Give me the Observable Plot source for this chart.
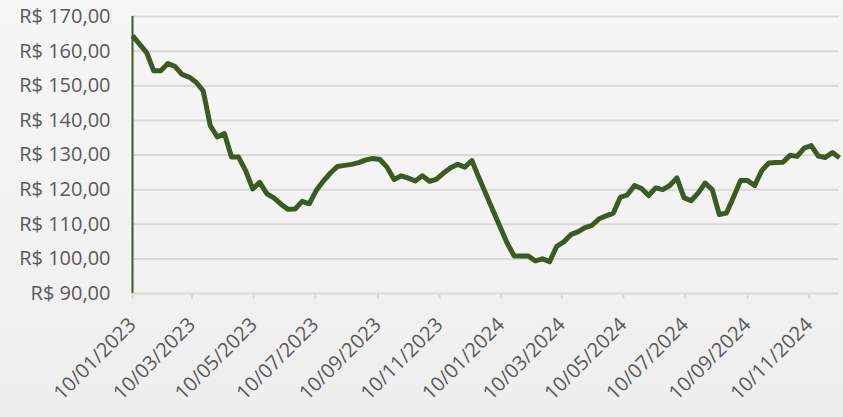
<!DOCTYPE html>
<html>
<head>
<meta charset="utf-8">
<script src="https://cdn.jsdelivr.net/npm/d3@7"></script>
<script src="https://cdn.jsdelivr.net/npm/@observablehq/plot@0.6"></script>
<style>
  html, body { margin: 0; padding: 0; }
  body { width: 843px; height: 417px; overflow: hidden;
         background: linear-gradient(180deg, #f6f6f6 0%, #f2f2f2 60%, #eeeeee 100%); }
  #chart svg { display: block; }
</style>
</head>
<body>
<div id="chart"></div>
<script>
// Weekly price series (R$), first week and step
const startDate = "2023-01-10";
const stepDays = 7;
const prices = [
  164.5, 162.0, 159.6, 154.3, 154.3, 156.4, 155.6, 153.3, 152.5, 151.0,
  148.5, 138.5, 135.2, 136.2, 129.4, 129.4, 125.5, 120.2, 122.1, 118.8,
  117.6, 115.8, 114.3, 114.4, 116.6, 115.9, 119.8, 122.5, 124.8, 126.7,
  127.0, 127.3, 127.8, 128.6, 129.0, 128.7, 126.5, 122.9, 124.0, 123.3,
  122.5, 124.0, 122.4, 123.0, 124.8, 126.3, 127.3, 126.5, 128.4, 123.4,
  118.7, 113.9, 109.2, 104.5, 100.8, 100.8, 100.8, 99.4, 100.0, 99.2,
  103.6, 104.9, 107.0, 107.8, 109.0, 109.7, 111.6, 112.4, 113.2, 117.8,
  118.5, 121.2, 120.3, 118.3, 120.5, 120.0, 121.2, 123.4, 117.7, 116.8,
  119.0, 121.9, 120.0, 112.8, 113.2, 117.8, 122.6, 122.6, 121.2, 125.5,
  127.7, 127.8, 127.9, 129.9, 129.6, 132.0, 132.7, 129.7, 129.3, 130.7,
  129.2
];
const yTicks = [90, 100, 110, 120, 130, 140, 150, 160, 170];
const xTickDates = [
  "2023-01-10", "2023-03-10", "2023-05-10", "2023-07-10", "2023-09-10", "2023-11-10",
  "2024-01-10", "2024-03-10", "2024-05-10", "2024-07-10", "2024-09-10", "2024-11-10"
];

const lineColor = "#3b5b23";
const gridColor = "#d9d9d9";
const textColor = "#595959";

const d0 = new Date(startDate + "T00:00:00Z");
const data = prices.map((p, i) => ({ date: d3.utcDay.offset(d0, i * stepDays), price: p }));
const dEnd = data[data.length - 1].date;
const xTicks = xTickDates.map(s => new Date(s + "T00:00:00Z"));
const fmtDate = d3.utcFormat("%d/%m/%Y");
const fmtBRL = v => "R$ " + v.toFixed(2).replace(".", ",");

const chart = Plot.plot({
  width: 843,
  height: 417,
  marginLeft: 132,
  marginRight: 4,
  marginTop: 16,
  marginBottom: 124,
  style: { fontFamily: "'Open Sans', sans-serif", fontSize: "20px", color: textColor, background: "transparent" },
  x: { type: "utc", domain: [d0, dEnd] },
  y: { domain: [90, 170] },
  marks: [
    Plot.ruleY(yTicks.filter(v => v > 90), { stroke: gridColor, strokeWidth: 2 }),
    Plot.ruleY([90], { stroke: gridColor, strokeWidth: 2 }),
    Plot.axisX({
      ticks: xTicks, tickFormat: fmtDate, tickRotate: -45,
      tickSize: 6, tickPadding: 22, stroke: gridColor, strokeWidth: 2,
      fill: textColor, fontSize: 20, label: null
    }),
    Plot.axisY({
      ticks: yTicks, tickFormat: fmtBRL, tickSize: 0, tickPadding: 22,
      fill: textColor, fontSize: 20, label: null
    }),
    Plot.ruleX([d0], { stroke: lineColor, strokeWidth: 2 }),
    Plot.lineY(data, { x: "date", y: "price", stroke: lineColor, strokeWidth: 5, strokeLinejoin: "round", strokeLinecap: "butt" })
  ]
});
document.getElementById("chart").appendChild(chart);
</script>
</body>
</html>
